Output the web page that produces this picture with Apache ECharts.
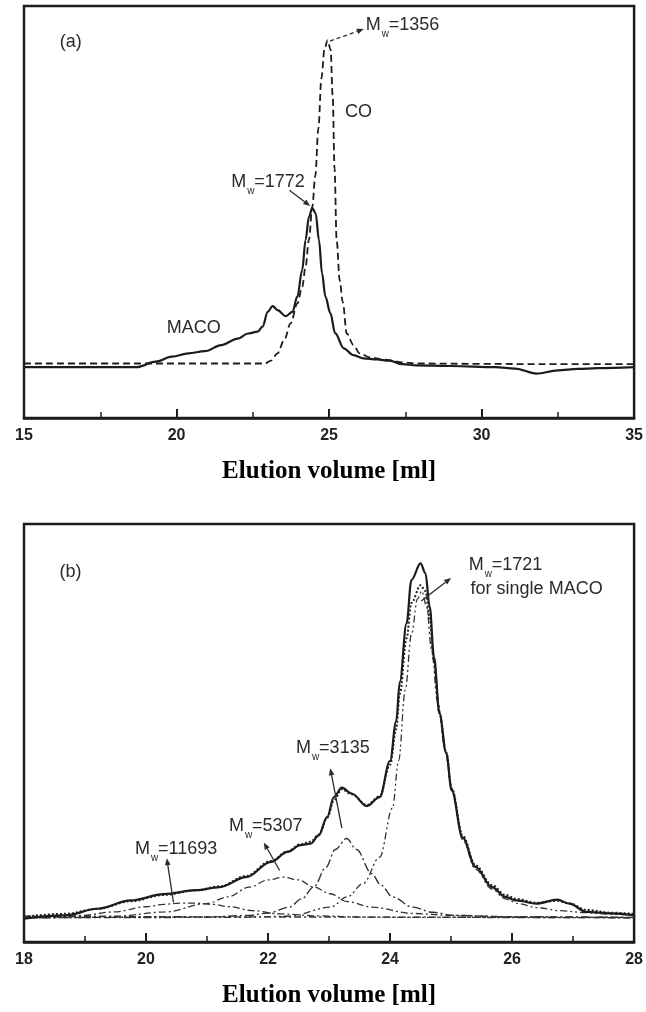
<!DOCTYPE html>
<html><head><meta charset="utf-8">
<script src="https://cdn.jsdelivr.net/npm/echarts@6/dist/echarts.min.js"></script>
<style>html,body{margin:0;padding:0;background:#fff}#c{width:646px;height:1012px}</style>
</head><body><div id="c"></div>
<script>
// ---------- DATA (x = elution volume [ml], y = detector response, arbitrary units) ----------
const ticksA = [15, 20, 25, 30, 35];
const ticksB = [18, 20, 22, 24, 26, 28];

const macoA = [
  [15,0],[18.7,0],[19.31,1.5],[19.85,2.9],[20.39,3.8],[20.93,4.4],[21.47,6.1],[22.01,7.9],
  [22.34,9.3],[22.66,9.8],[22.82,11.2],[22.99,15.3],[23.15,16.9],[23.31,15.8],[23.58,14.1],
  [23.8,15.3],[23.96,19.5],[24.12,26.9],[24.23,35.2],[24.34,41.6],[24.45,44.0],[24.56,42.6],
  [24.67,35.2],[24.77,26],[24.88,19.5],[25.04,15],[25.2,9.4],[25.48,5.2],[25.8,3.3],
  [26.13,2.4],[26.56,2.1],[26.98,1.8],[27.4,0.8],[27.86,0.5],[29,0.3],[30.45,0],
  [31.1,-0.4],[31.8,-1.8],[32.5,-0.9],[33.15,-0.5],[33.8,-0.3],[35,0]
];
const coA = [
  [15,1],[18,1],[20,1],[22,1],[22.9,1],[23.1,1.8],[23.31,3.8],[23.53,7.5],[23.74,12.1],
  [23.96,17.6],[24.12,22.2],[24.23,27.8],[24.34,35.2],[24.45,44.4],[24.55,53],[24.65,66],
  [24.75,80],[24.85,88],[24.95,90.5],[25.05,88],[25.12,75],[25.18,55],[25.25,35],
  [25.35,24],[25.45,18],[25.58,9.3],[25.8,6.1],[26.0,3.8],[26.33,2.7],[26.79,2.1],
  [27.44,1.3],[27.86,1.0],[30,0.9],[32,0.8],[35,0.8]
];

const macoB = [
  [18.0,0],[18.67,0.8],[19.21,2.5],[19.75,4.6],[20.29,6.2],[20.83,7.2],[21.21,8.0],
  [21.64,10.5],[22.05,14.4],[22.32,16.9],[22.53,18.6],[22.7,19.0],[22.83,21.1],[22.97,25.8],
  [23.08,30.8],[23.21,33.2],[23.37,31.7],[23.62,28.5],[23.83,30.8],[24.0,40],[24.1,50],
  [24.16,60],[24.27,74.8],[24.35,85.8],[24.5,90],[24.58,87.5],[24.65,79],[24.72,66.3],
  [24.81,52],[24.92,42],[25.01,32.5],[25.19,20.5],[25.4,13.1],[25.67,8.0],[25.89,5.5],
  [26.07,4.6],[26.4,3.8],[26.74,4.8],[26.94,3.8],[27.22,1.7],[27.62,1.3],[28.0,0.8]
];
const fitB = [
  [18,0.5],[18.67,1.2],[19.21,2.5],[19.75,4.4],[20.29,6.0],[20.83,7.2],[21.21,8.2],
  [21.64,10.8],[22.05,14.6],[22.32,17.0],[22.53,18.8],[22.7,19.5],[22.83,21.3],[22.97,25.5],
  [23.08,30],[23.21,32.8],[23.37,31.5],[23.62,28.8],[23.83,31],[24.0,39],[24.1,48],
  [24.16,57],[24.27,71],[24.35,80],[24.5,84.5],[24.58,83],[24.65,76],[24.72,65],
  [24.81,52],[24.92,42],[25.01,33],[25.19,21],[25.4,13.5],[25.67,8.5],[25.89,6],
  [26.07,5],[26.4,4],[26.74,4.5],[26.94,3.8],[27.22,2.2],[27.62,1.5],[28.0,1.2]
];
const comp11693 = [
  [18,0.3],[18.5,0.5],[18.94,0.8],[19.48,1.7],[20.0,3.0],[20.29,3.6],[20.55,3.9],[20.83,3.9],
  [21.1,3.6],[21.37,3.0],[21.75,2.0],[22.2,1.2],[22.8,0.7],[23.5,0.4],[24.5,0.3],[28,0.2]
];
const comp5307 = [
  [18,0.2],[19.5,0.6],[20.32,1.7],[20.99,3.8],[21.34,5.5],[21.7,8.0],[22.0,9.8],[22.25,10.5],
  [22.5,9.8],[22.75,8.0],[23.02,6.3],[23.3,4.3],[23.7,2.9],[24.37,1.3],[25,0.8],[26,0.5],[28,0.3]
];
const comp3135 = [
  [18,0.2],[21.0,0.4],[21.67,0.8],[22.0,1.4],[22.35,2.9],[22.55,5.0],[22.75,8.0],[22.95,13],
  [23.1,17.5],[23.29,20.3],[23.45,17.5],[23.7,11.4],[23.85,8.5],[24.04,5.5],[24.37,2.9],
  [24.7,1.6],[25.05,0.8],[26,0.4],[28,0.3]
];
const comp1721 = [
  [18,0.2],[21.5,0.3],[22.35,0.6],[23.02,2.9],[23.3,5.5],[23.56,8.9],[23.83,15.6],[24.04,28],
  [24.14,40],[24.25,58],[24.35,72],[24.45,81],[24.52,83],[24.6,79],[24.68,68],[24.78,55],
  [24.9,43],[25.01,33],[25.19,20],[25.4,12.5],[25.67,7.5],[25.89,5],[26.1,3.8],[26.4,2.8],
  [26.8,2],[27.2,1.5],[27.6,1.1],[28,0.9]
];
const baseB = [[18,0.6],[23,0.4],[28,0.2]];

// ---------- annotations (data coordinates) ----------
const notesA = [
  {kind:'plain', text:'(a)', x:16.17, y:90.0},
  {kind:'plain', text:'CO', x:25.52, y:70.6},
  {kind:'plain', text:'MACO', x:19.68, y:10.8},
  {kind:'mw', text:'=1356', x:26.2, y:94.7},
  {kind:'mw', text:'=1772', x:21.79, y:51.2}
];
const arrowsA = [
  {from:[25.03,90.3], to:[26.14,93.6], dashed:true},
  {from:[23.70,49.0], to:[24.38,44.6], dashed:false}
];
const notesB = [
  {kind:'plain', text:'(b)', x:18.58, y:87.8},
  {kind:'mw', text:'=1721', x:25.29, y:89.6},
  {kind:'plain', text:'for single MACO', x:25.32, y:83.5},
  {kind:'mw', text:'=3135', x:22.46, y:43.2},
  {kind:'mw', text:'=5307', x:21.36, y:23.4},
  {kind:'mw', text:'=11693', x:19.82, y:17.6}
];
const arrowsB = [
  {from:[24.51,80.5], to:[25.0,86.3]},
  {from:[23.21,22.9], to:[23.02,38.1]},
  {from:[22.19,12.2], to:[21.93,19.3]},
  {from:[20.45,4.1], to:[20.34,15.3]}
];

// ---------- chart ----------
const INK = '#1c1c1c';
const chart = echarts.init(document.getElementById('c'), null, {renderer:'canvas'});

function xAxisCfg(idx, ticks){
  return {
    type:'value', gridIndex:idx, position:'bottom',
    min:ticks[0], max:ticks[ticks.length-1], interval:ticks[1]-ticks[0],
    name:'Elution volume [ml]', nameLocation:'middle', nameGap:41,
    nameTextStyle:{fontFamily:'Liberation Serif', fontWeight:'bold', fontSize:25, color:'#000'},
    axisLine:{show:true, onZero:false, lineStyle:{color:INK, width:2.5}},
    axisTick:{show:true, inside:true, length:9, lineStyle:{color:INK, width:2}},
    minorTick:{show:true, splitNumber:2, length:6, lineStyle:{color:INK, width:1.5}},
    splitLine:{show:false},
    axisLabel:{show:true, margin:10, fontFamily:'Liberation Sans', fontWeight:'bold', fontSize:16,
      color:'#222', showMinLabel:true, showMaxLabel:true}
  };
}
function yAxisCfg(idx, min){
  return {type:'value', gridIndex:idx, min:min, max:100, show:false,
    axisLine:{show:false}, splitLine:{show:false}};
}
function lineSeries(idx, data, width, type, color){
  return {type:'line', xAxisIndex:idx, yAxisIndex:idx, data:data, showSymbol:false, symbol:'none',
    smooth:0.35, smoothMonotone:'x', animation:false,
    lineStyle:{color:color||INK, width:width, type:type}};
}

const option = {
  animation:false,
  backgroundColor:'#fff',
  grid:[
    {left:24, right:6, top:6, height:412, show:true, borderColor:INK, borderWidth:2.5, backgroundColor:'transparent'},
    {left:24, right:6, top:524, height:418, show:true, borderColor:INK, borderWidth:2.5, backgroundColor:'transparent'}
  ],
  xAxis:[xAxisCfg(0, ticksA), xAxisCfg(1, ticksB)],
  yAxis:[yAxisCfg(0, -14.1), yAxisCfg(1, -5.93)],
  series:[
    lineSeries(0, coA, 1.8, [7,4]),
    lineSeries(0, macoA, 2.2, 'solid'),
    lineSeries(1, baseB, 1.3, [7,3,2,3], '#333'),
    lineSeries(1, comp11693, 1.3, [7,3,2,3], '#333'),
    lineSeries(1, comp5307, 1.3, [7,3,2,3], '#333'),
    lineSeries(1, comp3135, 1.4, [9,3,2,3], '#333'),
    lineSeries(1, comp1721, 1.3, [7,3,2,3,2,3], '#333'),
    lineSeries(1, fitB, 2, [2,2], '#222'),
    lineSeries(1, macoB, 2.2, 'solid')
  ]
};
chart.setOption(option);

// ---------- annotation graphics ----------
const FONT = '18px "Liberation Sans"';
function px(idx, pt){ return chart.convertToPixel({xAxisIndex:idx, yAxisIndex:idx}, pt); }
function textEl(x, y, text, font){
  return {type:'text', x:x, y:y, silent:true, z:100,
    style:{text:text, font:font, fill:'#2a2a2a', align:'left', verticalAlign:'middle'}};
}
function noteEls(idx, n){
  const p = px(idx, [n.x, n.y]);
  if (n.kind === 'plain') return [textEl(p[0], p[1], n.text, FONT)];
  return [
    textEl(p[0], p[1], 'M', FONT),
    textEl(p[0]+16, p[1]+9, 'w', '10px "Liberation Sans"'),
    textEl(p[0]+23, p[1], n.text, FONT)
  ];
}
function arrowEls(idx, a){
  const p1 = px(idx, a.from), p2 = px(idx, a.to);
  const dx = p2[0]-p1[0], dy = p2[1]-p1[1], L = Math.hypot(dx,dy);
  const ux = dx/L, uy = dy/L, hl = 7, hw = 2.8;
  const bx = p2[0]-ux*hl, by = p2[1]-uy*hl;
  return [
    {type:'line', silent:true, z:100, shape:{x1:p1[0], y1:p1[1], x2:bx, y2:by},
      style:{stroke:'#2a2a2a', lineWidth:1.3, lineDash:a.dashed?[4,3]:null}},
    {type:'polygon', silent:true, z:100,
      shape:{points:[[p2[0],p2[1]],[bx-uy*hw, by+ux*hw],[bx+uy*hw, by-ux*hw]]},
      style:{fill:'#2a2a2a'}}
  ];
}
const g = [];
notesA.forEach(n => g.push(...noteEls(0, n)));
arrowsA.forEach(a => g.push(...arrowEls(0, a)));
notesB.forEach(n => g.push(...noteEls(1, n)));
arrowsB.forEach(a => g.push(...arrowEls(1, a)));
chart.setOption({graphic: g});
</script>
</body></html>
